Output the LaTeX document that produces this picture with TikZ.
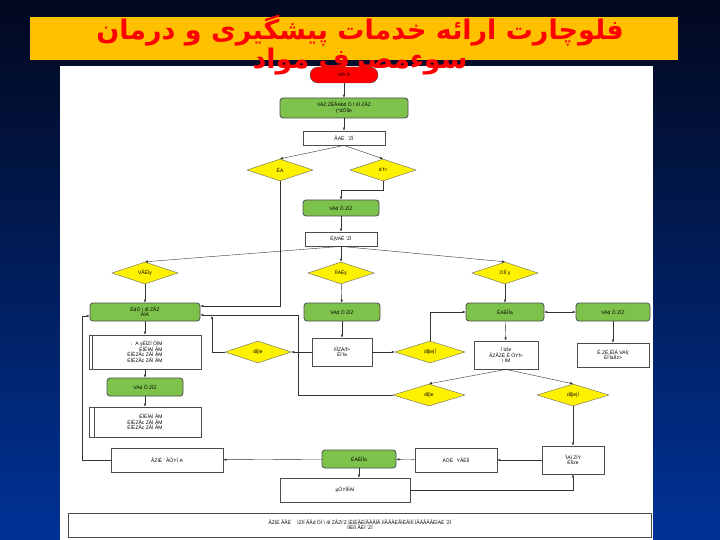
\documentclass[tikz,border=0pt]{standalone}
\usepackage{fontspec}
\setsansfont{Liberation Sans}
\newfontfamily\arabicfont[Script=Arabic]{DejaVu Sans Bold}
\TeXXeTstate=1
\usetikzlibrary{shapes.geometric,arrows.meta}
\definecolor{gfill}{HTML}{7DC24B}
\begin{document}
\begin{tikzpicture}[x=1pt,y=-1pt,
  every node/.style={font=\sffamily\fontsize{5}{5.5}\selectfont,align=center,inner sep=1pt},
  gbox/.style={draw=black!70,thick,fill=gfill,rounded corners=3pt,minimum height=16pt},
  wbox/.style={draw=black!70,thick,fill=white,minimum height=14pt},
  dia/.style={draw=black!60,fill=yellow,diamond,aspect=3,minimum width=66pt,minimum height=22pt,inner sep=0pt},
  arr/.style={draw=black!80,-{Latex[length=3pt,width=2.5pt]}},
  ln/.style={draw=black!80}]
\useasboundingbox (0,0) rectangle (720,540);
\shade[top color={rgb,255:red,2;green,8;blue,30},bottom color={rgb,255:red,0;green,50;blue,150}] (0,0) rectangle (720,540);
\fill[white] (60,66) rectangle (653,540);
\fill[fill={rgb,255:red,255;green,192;blue,0}] (30,17) rectangle (678,60);
\node[font=\arabicfont\fontsize{27}{30}\selectfont,text=red] (t1) at (360,31) {\beginR فلوچارت ارائه خدمات پیشگیری و درمان\endR};
\node[font=\arabicfont\fontsize{27}{30}\selectfont,text=red] (t2) at (360,62) {\beginR سوءمصرف مواد\endR};
% nodes
\node[draw=black!70,fill=red,rounded corners=8pt,minimum width=68pt,minimum height=16pt] (s) at (344,75) {nfA A};
\node[gbox,minimum width=128pt,minimum height=20pt] (g1) at (344,108) {VAZ:Z\'EÃAbd Ó \textbackslash\ 4Í ZÃZ\\(*dÓÍle};
\node[wbox,minimum width=82pt] (b1) at (344,138) {ÃAÉ \, 'ZÍ};
\node[dia] (dl) at (280,170) {ÉA};
\node[dia] (dr) at (383,170) {d f>};
\node[gbox,minimum width=76pt] (g2) at (341,208) {VAd Ó ZÍZ};
\node[wbox,minimum width=72pt] (b2) at (341,239) {ÉjVAÉ 'ZÍ};
\node[dia] (d1) at (145,273) {VÃÉÍy};
\node[dia] (d2) at (341,273) {ÍÍAÉy};
\node[dia] (d3) at (505,273) {OÍÍ y};
\node[gbox,minimum width=110pt,minimum height=18pt] (g3) at (145,312) {ÉdÓ \textbackslash\ 4Í ZÃZ\\ÃÍÀ};
\node[gbox,minimum width=76pt,minimum height=18pt] (g4) at (342,312) {VAd Ó ZÍZ};
\node[gbox,minimum width=78pt,minimum height=18pt] (g5) at (505,312) {ÉAÉÍÍa};
\node[gbox,minimum width=74pt,minimum height=18pt] (g6) at (613,312) {VAd Ó ZÍZ};
\node[wbox,minimum width=112pt,minimum height=34pt,align=right] (l1) at (145,352) {: \,A yÉÍZÍ ÓÍM\\ÉÍÉÍAÍ ÃM\\ÉÍÉZÃc ZÃÍ ÃM\\ÉÍÉZÃc ZÃÍ ÃM};
\draw[black!70] ([xshift=4pt]l1.north west) -- ([xshift=4pt]l1.south west);
\node[dia] (d4) at (258,352) {dl[ie};
\node[wbox,minimum width=60pt,minimum height=28pt] (b3) at (342,352) {/ÍÍZ\'A/f>\\ÉÍ'la};
\node[dia,minimum width=70pt] (d5) at (430,352) {dl[ie|Í};
\node[wbox,minimum width=64pt,minimum height=28pt] (b4) at (506,355) {Í lzÍe\\ÃZÃZÉ É ÓYf>\\\textbackslash\ ÍM};
\node[wbox,minimum width=72pt,minimum height=24pt] (b5) at (613,355) {É ZÉ,ÉÍ\'A VAÍ(\\ÉÍ'laÍÍz>};
\node[dia,minimum width=72pt] (d6) at (429,395) {dl[ie};
\node[dia,minimum width=72pt] (d7) at (573,395) {dl[ie|Í};
\node[gbox,minimum width=76pt,minimum height=18pt] (g7) at (145,387) {VAd Ó ZÍZ};
\node[wbox,minimum width=112pt,minimum height=30pt,align=right] (l2) at (145,422) {ÉÍÉÍAÍ ÃM\\ÉÍÉZÃc ZÃÍ ÃM\\ÉÍÉZÃc ZÃÍ ÃM};
\draw[black!70] ([xshift=6pt]l2.north west) -- ([xshift=6pt]l2.south west);
\node[wbox,minimum width=112pt,minimum height=24pt] (b6) at (167,460) {ÃZÍÉ '  ÃÓYÍ A};
\node[gbox,minimum width=74pt,minimum height=18pt] (g8) at (359,459) {ÉAÉÍÍa};
\node[wbox,minimum width=82pt,minimum height=24pt] (b7) at (456,460) {ÁÓÉ \, YÃÉÍÍ};
\node[wbox,minimum width=62pt,minimum height=28pt] (b8) at (573,460) {'ÍAÍ ZÍY\\ÉÍÍze};
\node[wbox,minimum width=130pt,minimum height=24pt] (b9) at (345,490) {µÓYÍÍÍAÍ};
\node[wbox,minimum width=583pt,minimum height=24pt] (nt) at (360,525) {ÃZÍÉ ÃÃÉ \quad ÍZÍÍ ÃÃd ÓÍ \textbackslash\ 4Í ZÃZÍ'Z ÍÉÍÉÃÉÍÃÃÃÍÃ ÍÍÃÃÃÉÃÍÉÃÍÍÍ ÍÃÃÃÃÃÉÍAÉ 'ZÍ\\ÍÍÉÍÍ ÃÉÍ 'ZÍ};
% connectors
\draw[arr] (s) -- (g1);
\draw[arr] (g1) -- (b1);
\draw[arr] (b1.south) -- (dl.north);
\draw[arr] (b1.south) -- (dr.north);
\draw[arr] (dr.south) |- (341,190) -- (g2.north);
\draw[arr] (g2) -- (b2);
\draw[arr] (b2.south) -- (d1.north);
\draw[arr] (b2.south) -- (d2.north);
\draw[arr] (b2.south) -- (d3.north);
\draw[arr] (d1) -- (g3);
\draw[arr] (d2) -- (g4);
\draw[arr] (d3) -- (g5);
\draw[arr] (dl.south) -- (280,306) -- (g3.east |- 0,306);
\draw[arr] (d6.west) -- (298,395) -- (298,315) -- (g3.east |- 0,315);
\draw[arr] (d4.west) -- (212,352) -- (212,316);
\draw[arr] (g3) -- (l1);
\draw[arr] (l1) -- (g7);
\draw[arr] (g7) -- (l2);
\draw[arr] (g4) -- (b3);
\draw[arr] (b3) -- (d4);
\draw[arr] (b3) -- (d5);
\draw[arr] (d5.north) |- (g5.west);
\draw[{Latex[length=3pt,width=2.5pt]}-{Latex[length=3pt,width=2.5pt]},draw=black!80] (g5) -- (g6);
\draw[arr] (g5) -- (b4);
\draw[arr] (g6) -- (b5);
\draw[arr] (b4.south) -- (d6.north);
\draw[arr] (b4.south) -- (d7.north);
\draw[arr] (d7) -- (b8);
\draw[arr] (b8) -- (b7);
\draw[arr] (b7) -- (g8);
\draw[arr] (g8) -- (b6);
\draw[arr] (g8) -- (g8 |- b9.north);
\draw[arr] (b9.east) -| (b8.south);
\draw[arr] (b6.west) -- (82,460) -- (82,316) -- (g3.west |- 0,316);
\end{tikzpicture}
\end{document}
